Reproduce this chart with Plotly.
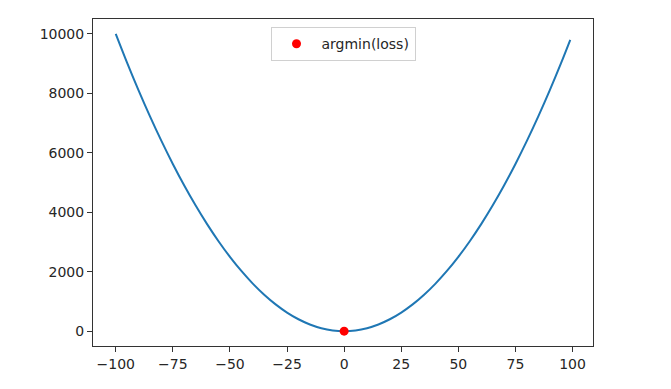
import plotly.graph_objects as go

# values (curve samples)
x_vals = [-100, -95, -90, -85, -80, -75, -70, -65, -60, -55, -50, -45, -40, -35, -30,
          -25, -20, -15, -10, -5, 0, 5, 10, 15, 20, 25, 30, 35, 40, 45, 50, 55, 60,
          65, 70, 75, 80, 85, 90, 95, 99]
loss_vals = [10000, 9025, 8100, 7225, 6400, 5625, 4900, 4225, 3600, 3025, 2500, 2025,
             1600, 1225, 900, 625, 400, 225, 100, 25, 0, 25, 100, 225, 400, 625, 900,
             1225, 1600, 2025, 2500, 3025, 3600, 4225, 4900, 5625, 6400, 7225, 8100,
             9025, 9801]
argmin_x = [0]
argmin_y = [0]

x_ticks = [-100, -75, -50, -25, 0, 25, 50, 75, 100]
y_ticks = [0, 2000, 4000, 6000, 8000, 10000]

fig = go.Figure()
fig.add_trace(go.Scatter(
    x=x_vals, y=loss_vals, mode="lines", line=dict(color="#1f77b4", width=2, shape="spline"),
    showlegend=False, hoverinfo="skip"))
fig.add_trace(go.Scatter(
    x=argmin_x, y=argmin_y, mode="markers", name="argmin(loss)",
    marker=dict(color="red", size=9)))

axis_common = dict(
    showgrid=False, zeroline=False, showline=True, linecolor="#333333", linewidth=1,
    mirror=True, ticks="outside", ticklen=5, tickcolor="#333333", tickwidth=1,
    tickfont=dict(family="DejaVu Sans", size=14, color="#262626"))

fig.update_xaxes(range=[-109.95, 108.95], tickvals=x_ticks,
                 ticktext=[str(t).replace("-", "\u2212") for t in x_ticks], **axis_common)
fig.update_yaxes(range=[-500, 10500], tickvals=y_ticks,
                 ticktext=[str(t) for t in y_ticks], **axis_common)

fig.update_layout(
    width=671, height=389, autosize=False,
    margin=dict(l=93, r=78, t=19, b=43),
    paper_bgcolor="white", plot_bgcolor="white",
    legend=dict(x=0.5, xanchor="center", y=0.975, yanchor="top", itemwidth=40,
                bgcolor="rgba(255,255,255,0.8)", bordercolor="#d0d0d0", borderwidth=1,
                font=dict(family="DejaVu Sans", size=14, color="#262626")),
)

fig.write_html("out.html")
